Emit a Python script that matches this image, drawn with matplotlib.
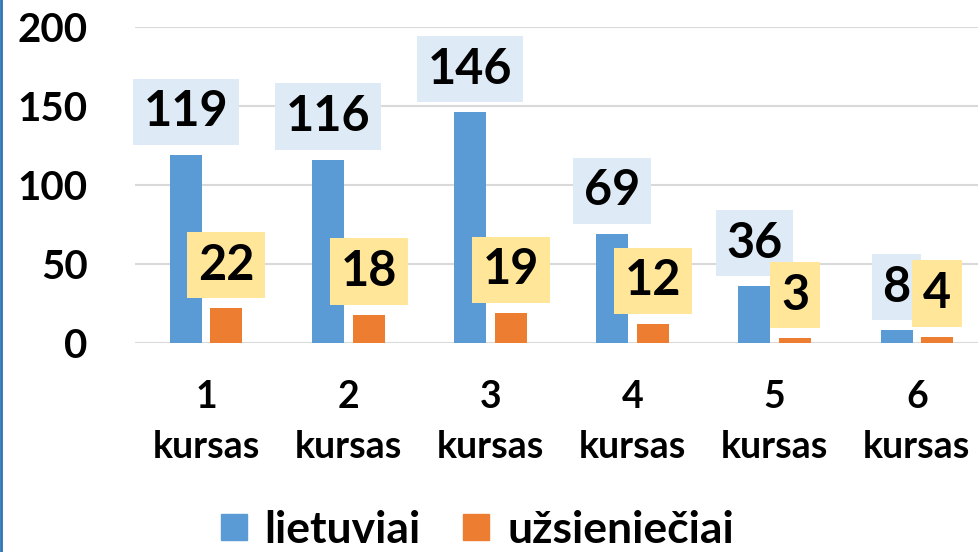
import matplotlib
matplotlib.use('Agg')
import matplotlib.pyplot as plt
from matplotlib.lines import Line2D
import numpy as np

plt.rcParams['font.family'] = ['Lato', 'DejaVu Sans']
plt.rcParams['font.weight'] = 'bold'

categories = ['1\nkursas', '2\nkursas', '3\nkursas', '4\nkursas', '5\nkursas', '6\nkursas']
lietuviai = [119, 116, 146, 69, 36, 8]
uzsienieciai = [22, 18, 19, 12, 3, 4]
series_names = ['lietuviai', 'užsieniečiai']

blue = '#5B9BD5'
orange = '#ED7D31'

fig = plt.figure(figsize=(9.79, 5.52), dpi=100)
ax = fig.add_axes([135/979, 209/552, 853/979, 316/552])

x = np.arange(len(categories))
w = 0.225
off = 0.143
b1 = ax.bar(x - off, lietuviai, w, color=blue, zorder=2)
b2 = ax.bar(x + off, uzsienieciai, w, color=orange, zorder=2)

for bars, vals, bg in [(b1, lietuviai, '#DEEBF7'), (b2, uzsienieciai, '#FFE699')]:
    for r, v in zip(bars, vals):
        ax.annotate(str(v), (r.get_x() + r.get_width() / 2, r.get_height()),
                    xytext=(0, 31), textcoords='offset points',
                    ha='center', va='center', fontsize=35, fontweight='bold',
                    bbox=dict(boxstyle='square,pad=0.22', fc=bg, ec='none'),
                    zorder=3)

ax.set_xlim(-0.5, len(categories) - 0.5)
ax.set_ylim(0, 200)
ax.set_yticks([0, 50, 100, 150, 200])
ax.set_xticks(x)
ax.set_xticklabels(categories, fontsize=27, fontweight='bold', linespacing=1.55)
ax.tick_params(axis='y', labelsize=29, length=0, pad=34)
ax.tick_params(axis='x', length=0, pad=27)
for lab in ax.get_yticklabels():
    lab.set_fontweight('bold')

ax.grid(axis='y', color='#D9D9D9', linewidth=1.5, zorder=0)
ax.set_axisbelow(True)
for s in ax.spines.values():
    s.set_visible(False)

handles = [Line2D([], [], marker='s', linestyle='none', markersize=19, color=c)
           for c in (blue, orange)]
fig.legend(handles, series_names, loc='center', bbox_to_anchor=(0.485, 0.04),
           ncol=2, frameon=False, handlelength=0.8, handletextpad=0.3,
           columnspacing=0.84, borderpad=0.2, prop={'weight': 'bold', 'size': 32})

fig.add_artist(Line2D([0.001, 0.001], [0, 1], color='#2E75B6', linewidth=2,
                      transform=fig.transFigure))

fig.savefig('out.png', dpi=100)
